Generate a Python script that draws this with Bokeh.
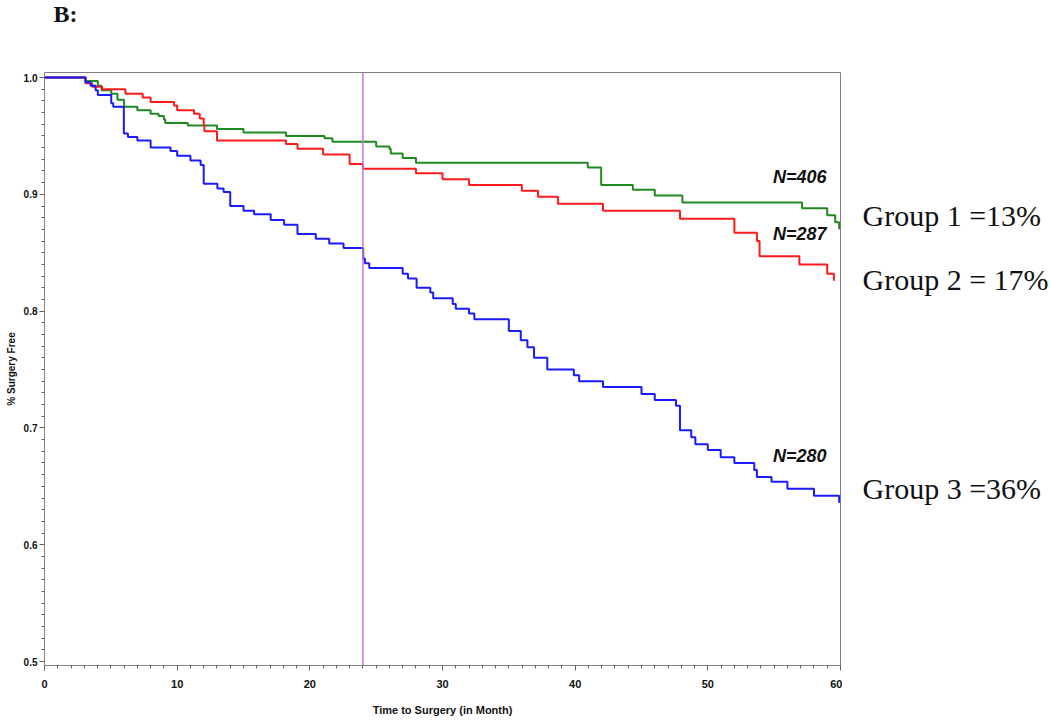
from bokeh.plotting import figure
from bokeh.models import Span, Label, SingleIntervalTicker, Range1d, PrintfTickFormatter
from bokeh.layouts import column, row
from bokeh.embed import file_html
from bokeh.resources import INLINE

# ---- data ----
g1_time = [0, 3.09, 4.02, 4.3, 5.03, 5.5, 6.0, 7.0, 8.0, 8.6, 9.0, 9.1, 10.8, 13.0, 15.0,
           18.2, 21.1, 21.7, 25.0, 26.0, 26.1, 27.0, 28.0, 40.95, 41.96, 44.35, 46.0, 48.08,
           57.1, 59.0, 59.6, 59.9]
g1_surv = [1.0, 0.997, 0.993, 0.989, 0.986, 0.981, 0.975, 0.972, 0.969, 0.967, 0.964, 0.961,
           0.959, 0.956, 0.953, 0.950, 0.948, 0.945, 0.941, 0.939, 0.935, 0.931, 0.927, 0.923,
           0.908, 0.904, 0.899, 0.893, 0.888, 0.882, 0.876, 0.870]

g2_time = [0, 3.09, 3.6, 4.35, 6.1, 7.4, 8.0, 9.76, 10.0, 11.27, 11.7, 12.0, 12.05, 13.0, 18.2,
           19.07, 21.0, 23.0, 24.0, 28.0, 30.0, 32.0, 35.98, 37.2, 38.7, 42.1, 47.9, 52.0, 53.7,
           53.9, 56.9, 59.0, 59.5]
g2_surv = [1.0, 0.995, 0.992, 0.990, 0.986, 0.983, 0.979, 0.976, 0.972, 0.969, 0.965, 0.959,
           0.954, 0.946, 0.943, 0.939, 0.934, 0.926, 0.922, 0.918, 0.913, 0.908, 0.903, 0.898,
           0.892, 0.886, 0.879, 0.867, 0.860, 0.847, 0.840, 0.832, 0.826]

g3_time = [0, 3.09, 3.47, 3.85, 4.02, 5.03, 5.18, 5.98, 6.29, 7.0, 8.0, 9.5, 10.0, 11.0, 11.77,
           12.0, 13.03, 13.5, 14.0, 15.0, 15.8, 17.05, 18.06, 19.07, 20.45, 21.46, 22.54, 24.02,
           24.15, 24.48, 27.0, 27.4, 28.05, 29.08, 29.3, 30.77, 31.0, 32.0, 32.4, 35.0, 35.9,
           36.4, 36.9, 37.9, 39.9, 40.3, 42.1, 45.0, 46.0, 47.6, 47.9, 48.75, 49.06, 50.0, 50.97,
           52.0, 53.5, 53.7, 54.8, 56.0, 58.0, 59.9]
g3_surv = [1.0, 0.996, 0.993, 0.989, 0.985, 0.978, 0.975, 0.952, 0.949, 0.946, 0.940, 0.937,
           0.933, 0.929, 0.925, 0.909, 0.905, 0.902, 0.890, 0.886, 0.883, 0.878, 0.874, 0.866,
           0.862, 0.858, 0.854, 0.845, 0.841, 0.837, 0.832, 0.828, 0.820, 0.816, 0.811, 0.806,
           0.802, 0.798, 0.793, 0.783, 0.775, 0.769, 0.760, 0.750, 0.745, 0.740, 0.735, 0.729,
           0.724, 0.719, 0.698, 0.692, 0.686, 0.681, 0.675, 0.670, 0.664, 0.658, 0.654, 0.648,
           0.642, 0.636]

n_labels = ["N=406", "N=287", "N=280"]
n_label_y = [0.915, 0.866, 0.676]
group_labels = ["Group 1 =13%", "Group 2 = 17%", "Group 3 =36%"]
group_label_y = [0.882, 0.827, 0.648]
landmark_month = 24
panel_label = "B:"

x_title = "Time to Surgery (in Month)"
y_title = "% Surgery Free"

yr = Range1d(0.4966, 1.0043)

# ---- main plot ----
p = figure(width=842, height=649, output_backend="svg", toolbar_location=None,
           x_range=Range1d(0, 60), y_range=yr,
           min_border_left=44, min_border_right=2, min_border_top=1, min_border_bottom=55)

p.outline_line_color = "#808080"
p.outline_line_width = 1
p.xgrid.visible = False
p.ygrid.visible = False

p.xaxis.ticker = SingleIntervalTicker(interval=10, num_minor_ticks=10)
p.yaxis.ticker = SingleIntervalTicker(interval=0.1, num_minor_ticks=10)
p.yaxis.formatter = PrintfTickFormatter(format="%.1f")

for ax in (p.xaxis, p.yaxis):
    ax.axis_line_color = "#808080"
    ax.major_tick_line_color = "#606060"
    ax.minor_tick_line_color = "#606060"
    ax.major_tick_out = 5
    ax.major_tick_in = 0
    ax.minor_tick_out = 3
    ax.minor_tick_in = 0
    ax.major_label_text_font = "Liberation Sans"
    ax.major_label_text_font_style = "bold"
    ax.major_label_text_font_size = "11px"
    ax.major_label_text_color = "#111111"
    ax.axis_label_text_font = "Liberation Sans"
    ax.axis_label_text_font_style = "bold"
    ax.axis_label_text_font_size = "11px"
    ax.axis_label_text_color = "#111111"

p.yaxis.major_label_text_font_size = "10px"
p.yaxis.axis_label_text_font_size = "10px"
p.xaxis.axis_label = x_title
p.yaxis.axis_label = y_title
p.xaxis.major_label_standoff = 9
p.xaxis.axis_label_standoff = 13
p.yaxis.major_label_standoff = 2
p.yaxis.axis_label_standoff = 4

# landmark vertical line
p.add_layout(Span(location=landmark_month, dimension="height",
                  line_color="#c07ad6", line_width=1.5))

# survival curves
p.step(g1_time, g1_surv, mode="after", line_color="#1f8a1f", line_width=2)
p.step(g2_time, g2_surv, mode="after", line_color="#ff1a1a", line_width=2)
p.step(g3_time, g3_surv, mode="after", line_color="#1a1aff", line_width=2)

# N labels
for txt, yy in zip(n_labels, n_label_y):
    p.add_layout(Label(x=58.95, y=yy, text=txt, text_align="right", text_baseline="middle",
                       text_font="Liberation Sans", text_font_style="bold italic",
                       text_font_size="18px", text_color="#111111"))

# ---- right-hand panel with group labels (shares the y scale) ----
q = figure(width=208, height=649, output_backend="svg", toolbar_location=None,
           x_range=Range1d(0, 208), y_range=yr, x_axis_type=None, y_axis_type=None,
           min_border_left=0, min_border_right=0, min_border_top=1, min_border_bottom=55)
q.outline_line_color = None
q.xgrid.visible = False
q.ygrid.visible = False
for txt, yy in zip(group_labels, group_label_y):
    q.add_layout(Label(x=20, y=yy, text=txt, text_align="left", text_baseline="alphabetic",
                       text_font="Liberation Serif", text_font_size="30px",
                       text_color="#111111"))

# ---- top strip with the panel label ----
t = figure(width=1050, height=71, output_backend="svg", toolbar_location=None,
           x_range=Range1d(0, 1050), y_range=Range1d(0, 71), x_axis_type=None, y_axis_type=None,
           min_border=0)
t.outline_line_color = None
t.xgrid.visible = False
t.ygrid.visible = False
t.add_layout(Label(x=53, y=58, text=panel_label, text_align="left",
                   text_baseline="alphabetic", text_font="Liberation Serif",
                   text_font_style="bold", text_font_size="24px", text_color="#111111"))

layout = column(t, row(p, q, spacing=0), spacing=0)

open("out.html", "w").write(file_html(layout, INLINE))
